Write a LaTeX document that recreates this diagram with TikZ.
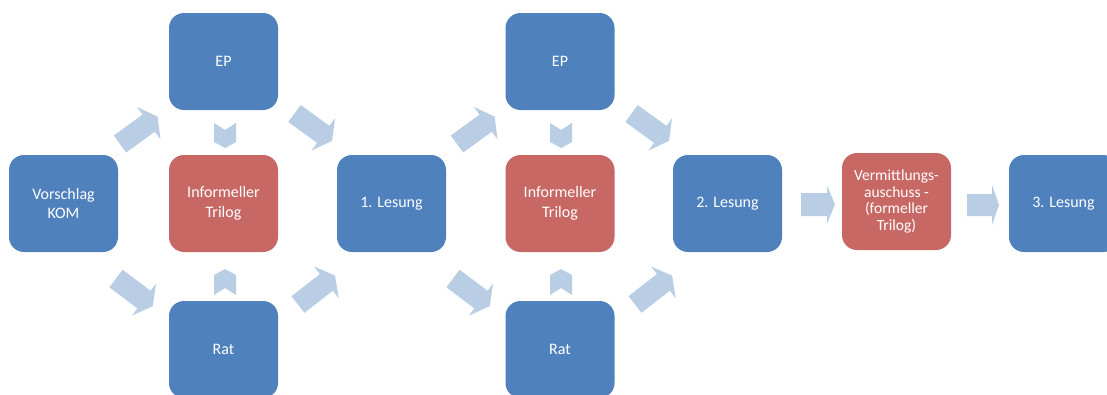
\documentclass[tikz,border=0pt]{standalone}
\usepackage{fontspec}
\setmainfont{Carlito}
\definecolor{boxblue}{RGB}{79,129,189}
\definecolor{boxred}{RGB}{199,104,101}
\definecolor{arrowblue}{RGB}{185,205,229}
\newcommand\myarrow[7]{%
  \fill[arrowstyle, shift={(#1,#2)}, rotate=#3]
    (0,-#5) -- ({#4-#7},-#5) -- ({#4-#7},-#6) -- (#4,0) -- ({#4-#7},#6) -- ({#4-#7},#5) -- (0,#5) -- cycle;}
\newcommand\mychevdown[1]{%
  \fill[arrowstyle] ({#1-11},123) -- (#1,130) -- ({#1+11},123) -- ({#1+11},142) -- (#1,148) -- ({#1-11},142) -- cycle;}
\newcommand\mychevup[1]{%
  \fill[arrowstyle] ({#1-11},295) -- (#1,288) -- ({#1+11},295) -- ({#1+11},275) -- (#1,269) -- ({#1-11},275) -- cycle;}
\begin{document}
\begin{tikzpicture}[x=1pt,y=-1pt,
  arrowstyle/.style={fill=arrowblue},
  basebox/.style={rectangle, rounded corners=15pt, minimum width=109pt, minimum height=97pt,
    inner sep=2pt, align=center, text=white, font=\fontsize{16}{19.5}\selectfont},
  bluebox/.style={basebox, fill=boxblue},
  redbox/.style={basebox, fill=boxred}]
\clip (0,0) rectangle (1107,394);
\fill[white] (0,0) rectangle (1107,394);
% boxes
\node[bluebox] (vorschlag) at (63.5,203.5) {Vorschlag\\KOM};
\node[bluebox] (ep1) at (223.5,61.5) {EP};
\node[redbox] (tri1) at (223.5,203.5) {Informeller\\Trilog};
\node[bluebox] (rat1) at (223.5,349.5) {Rat};
\node[bluebox] (les1) at (391.5,203.5) {1. Lesung};
\node[bluebox] (ep2) at (560,61.5) {EP};
\node[redbox] (tri2) at (560,203.5) {Informeller\\Trilog};
\node[bluebox] (rat2) at (560,349.5) {Rat};
\node[bluebox] (les2) at (727.5,203.5) {2. Lesung};
\node[redbox, font=\fontsize{15.5}{16.5}\selectfont] (verm) at (896.5,201.5) {Vermittlungs-\\auschuss -\\(formeller\\Trilog)};
\node[bluebox] (les3) at (1063.5,203.5) {3. Lesung};
% block arrows, first cluster
\myarrow{120}{144}{36}{46.5}{10.5}{20}{11}
\myarrow{294.5}{113.5}{-36}{46.5}{10.5}{20}{11}
\myarrow{116}{278.5}{-37}{46}{11}{20}{11}
\myarrow{298}{304.5}{38}{47}{10.5}{20}{11}
\mychevdown{225}
\mychevup{225}
% second cluster
\myarrow{457}{144}{36}{46.5}{10.5}{20}{11}
\myarrow{631.5}{113.5}{-36}{46.5}{10.5}{20}{11}
\myarrow{453}{278.5}{-37}{46}{11}{20}{11}
\myarrow{635}{304.5}{38}{47}{10.5}{20}{11}
\mychevdown{561}
\mychevup{561}
% horizontal arrows
\myarrow{801}{204.5}{0}{34}{11.5}{19}{8}
\myarrow{967}{205}{0}{32}{11}{20}{7}
\end{tikzpicture}
\end{document}
